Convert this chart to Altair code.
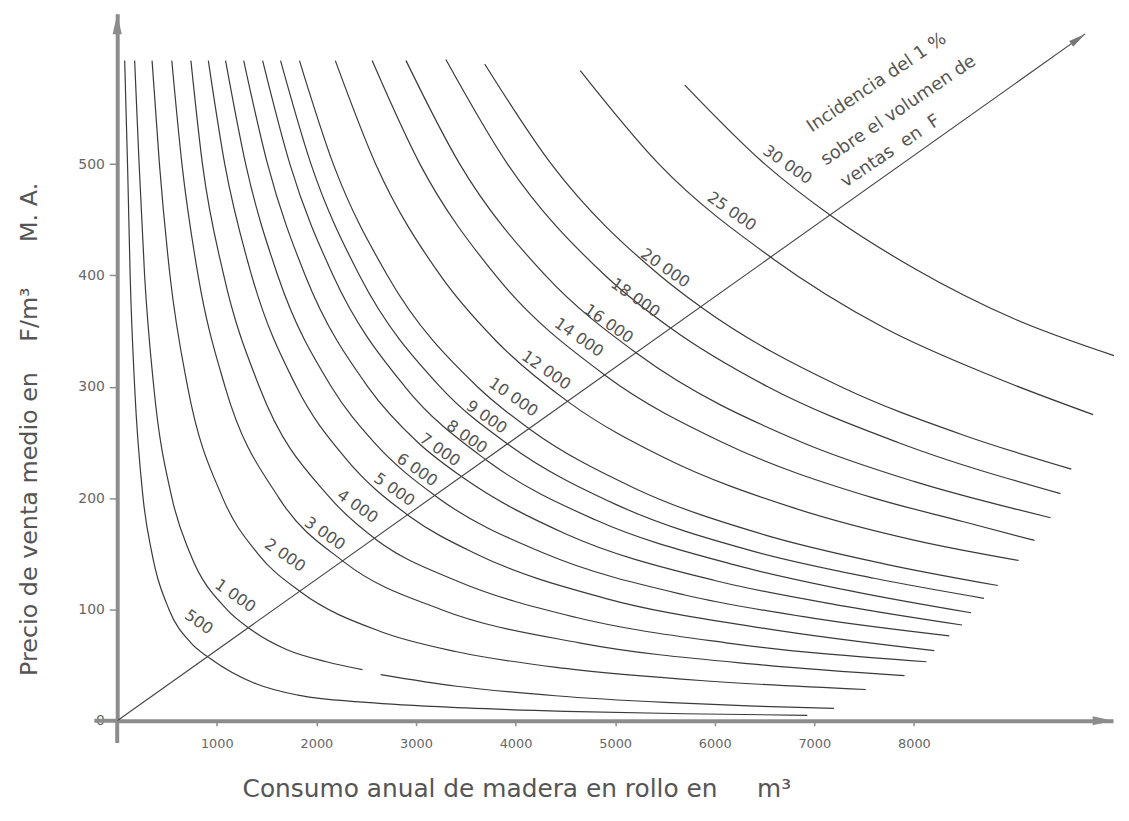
import altair as alt
import pandas as pd

# ---- curves (x: m3, y: F/m3) ----
x_500 = [75, 105, 130, 175, 260, 350, 520, 740, 937, 1400, 1815, 2500, 3500, 4500, 5700, 6930]
y_500 = [593, 495, 400, 300, 200, 150, 100, 70, 55.8, 33, 23, 16.5, 11.5, 8.5, 6.3, 4.9]
x_1000a = [175, 220, 275, 367, 550, 733, 1100, 1346, 1700, 2100, 2463]
y_1000a = [593, 500, 400, 300, 200, 150, 100, 81.7, 64, 53, 45.9]
x_1000b = [2645, 3410, 4400, 5500, 6400, 7198]
y_1000b = [41.5, 31, 22.5, 16.5, 13.2, 11.2]
x_2000 = [350, 424, 530, 707, 1060, 1413, 1844, 2650, 3410, 4500, 6000, 7517]
y_2000 = [593, 500, 400, 300, 200, 150, 115.6, 80, 62, 47, 35.3, 28.1]
x_3000 = [548, 650, 812, 1083, 1625, 2283, 3250, 4640, 6500, 7906]
y_3000 = [593, 500, 400, 300, 200, 142.3, 100, 70, 50, 40.6]
x_4000 = [740, 856, 1070, 1427, 2140, 2612, 3400, 4600, 6115, 8126]
y_4000 = [593, 500, 400, 300, 200, 162, 126, 93, 70, 53]
x_5000 = [915, 1080, 1350, 1800, 2300, 2941, 3600, 4900, 6500, 8205]
y_5000 = [593, 500, 400, 300, 235, 183.3, 150, 110, 83, 63]
x_6000 = [1088, 1290, 1612, 2150, 2580, 3210, 4300, 5700, 7000, 8355]
y_6000 = [593, 500, 400, 300, 250, 201, 150, 113, 92, 76.3]
x_7000 = [1270, 1510, 1888, 2517, 3020, 3479, 4500, 6000, 7300, 8484]
y_7000 = [593, 500, 400, 300, 250, 218, 168, 126, 103, 86]
x_8000 = [1460, 1734, 2168, 2890, 3709, 4800, 6200, 7400, 8574]
y_8000 = [593, 500, 400, 300, 234, 180.5, 140, 116, 97]
x_9000 = [1640, 1946, 2433, 3243, 3938, 5000, 6400, 7600, 8704]
y_9000 = [593, 500, 400, 300, 247.5, 194.6, 152, 128, 110]
x_10000 = [1830, 2170, 2713, 3617, 4157, 5200, 6500, 7700, 8843]
y_10000 = [593, 500, 400, 300, 261, 208.7, 167, 141, 121.5]
x_12000 = [2190, 2596, 3245, 3800, 4536, 5500, 6800, 8000, 9052]
y_12000 = [593, 500, 400, 341.6, 286, 236, 191, 162.3, 144]
x_14000 = [2560, 3040, 3800, 4905, 6080, 7600, 8500, 9212]
y_14000 = [593, 500, 400, 310, 250, 200, 178.8, 162]
x_16000 = [2900, 3440, 4300, 5224, 6880, 8000, 9372]
y_16000 = [593, 500, 400, 329.6, 250, 215, 182.4]
x_18000 = [3300, 3920, 4900, 5553, 6533, 7840, 9472]
y_18000 = [594, 500, 400, 353, 300, 250, 204]
x_20000 = [3690, 4360, 5450, 5872, 7267, 8500, 9581]
y_20000 = [590, 500, 400, 371, 300, 256.5, 226]
x_25000 = [4650, 5440, 6580, 7700, 8800, 9800]
y_25000 = [584, 500, 415.3, 353, 309, 275]
x_30000 = [5700, 6504, 7168, 8000, 9000, 10010]
y_30000 = [571, 500, 453.6, 406.5, 361.3, 328]

# ---- curve labels ----
label_text = ["500", "1 000", "2 000", "3 000", "4 000", "5 000", "6 000", "7 000", "8 000",
              "9 000", "10 000", "12 000", "14 000", "16 000", "18 000", "20 000", "25 000", "30 000"]
label_x = [818, 1186, 1685, 2084, 2413, 2782, 3011, 3240, 3509, 3709, 3978, 4307, 4636, 4935,
           5204, 5503, 6171, 6730]
label_y = [88.5, 112.2, 148.6, 168.1, 192.4, 207.6, 225.4, 243.3, 254.9, 272.7, 290.6, 314.7,
           344.2, 356.6, 379.8, 406.5, 457.4, 499.3]

# ---- diagonal "incidencia" line ----
diag_x = [0, 9720]
diag_y = [0, 617]
note_text = ["Incidencia del 1 %", "sobre el volumen de", "ventas  en  F"]
note_x = [7627, 7846, 7767]
note_y = [573, 548, 511.5]

# ---- axes ----
y_ticks = [0, 100, 200, 300, 400, 500]
x_ticks = [1000, 2000, 3000, 4000, 5000, 6000, 7000, 8000]
X_MAX = 10000
Y_MAX = 635

NB = "\u00a0"
x_title = "Consumo anual de madera en rollo en" + NB * 5 + "m³"
y_title = "Precio de venta medio en" + NB * 4 + "F/m³" + NB * 6 + "M. A."

curves = [
    ("500", x_500, y_500), ("1000a", x_1000a, y_1000a), ("1000b", x_1000b, y_1000b),
    ("2000", x_2000, y_2000), ("3000", x_3000, y_3000), ("4000", x_4000, y_4000),
    ("5000", x_5000, y_5000), ("6000", x_6000, y_6000), ("7000", x_7000, y_7000),
    ("8000", x_8000, y_8000), ("9000", x_9000, y_9000), ("10000", x_10000, y_10000),
    ("12000", x_12000, y_12000), ("14000", x_14000, y_14000), ("16000", x_16000, y_16000),
    ("18000", x_18000, y_18000), ("20000", x_20000, y_20000), ("25000", x_25000, y_25000),
    ("30000", x_30000, y_30000),
]
rows = []
for name, xs, ys in curves:
    for i, (xv, yv) in enumerate(zip(xs, ys)):
        rows.append({"seg": name, "i": i, "x": xv, "y": yv})
df = pd.DataFrame(rows)

df_labels = pd.DataFrame({"x": label_x, "y": label_y, "t": [s.replace(" ", NB) for s in label_text]})
df_diag = pd.DataFrame({"x": diag_x, "y": diag_y})
df_note = pd.DataFrame({"x": note_x, "y": note_y, "t": [s.replace(" ", NB) for s in note_text]})
df_arrow_axes = pd.DataFrame({"x": [0, X_MAX], "y": [Y_MAX, 0], "a": [270, 0]})
df_arrow_diag = pd.DataFrame({"x": [diag_x[1]], "y": [diag_y[1]], "a": [324.4]})
df_stub_v = pd.DataFrame({"x": [0], "y": [-20], "y2": [0]})
df_stub_h = pd.DataFrame({"x": [-230], "x2": [0], "y": [0]})

FONT = "DejaVu Sans"
XS = alt.Scale(domain=[0, X_MAX], nice=False, zero=False)
YS = alt.Scale(domain=[0, Y_MAX], nice=False, zero=False)

x_axis = alt.Axis(
    values=x_ticks, grid=False, domainColor="#8c8c8c", domainWidth=4,
    tickColor="#8c8c8c", tickSize=5, tickWidth=1.5, labelFont=FONT, labelFontSize=13,
    labelColor="#666", labelPadding=12, format="d",
    title=x_title, titleFont=FONT, titleFontSize=25,
    titleFontWeight="normal", titleColor="#555", titleX=402, titleY=68,
    titleAlign="center", titleBaseline="middle",
)
y_axis = alt.Axis(
    values=y_ticks, grid=False, domainColor="#8c8c8c", domainWidth=4,
    tickColor="#8c8c8c", tickSize=8, tickWidth=1.5, labelFont=FONT, labelFontSize=14,
    labelColor="#666", labelPadding=5, format="d",
    title=y_title, titleFont=FONT, titleFontSize=24,
    titleFontWeight="normal", titleColor="#555", titleAngle=270, titleX=-88, titleY=418,
    titleAlign="center", titleBaseline="middle",
)

lines = alt.Chart(df).mark_line(color="#3a3a3a", strokeWidth=1.2, interpolate="monotone").encode(
    x=alt.X("x:Q", scale=XS, axis=x_axis),
    y=alt.Y("y:Q", scale=YS, axis=y_axis),
    detail="seg:N",
    order="i:Q",
)

diag = alt.Chart(df_diag).mark_line(color="#444", strokeWidth=1.1).encode(
    x=alt.X("x:Q", scale=XS), y=alt.Y("y:Q", scale=YS)
)

stub_v = alt.Chart(df_stub_v).mark_rule(color="#8c8c8c", strokeWidth=4).encode(
    x=alt.X("x:Q", scale=XS), y=alt.Y("y:Q", scale=YS), y2="y2:Q"
)
stub_h = alt.Chart(df_stub_h).mark_rule(color="#8c8c8c", strokeWidth=4).encode(
    x=alt.X("x:Q", scale=XS), x2="x2:Q", y=alt.Y("y:Q", scale=YS)
)

arrows_axes = alt.Chart(df_arrow_axes).mark_point(
    shape="M0,0L-2,-0.45L-2,0.45Z", filled=True, color="#8c8c8c", size=420, opacity=1
).encode(
    x=alt.X("x:Q", scale=XS), y=alt.Y("y:Q", scale=YS), angle=alt.Angle("a:Q", scale=None)
)
arrow_diag = alt.Chart(df_arrow_diag).mark_point(
    shape="M0,0L-2,-0.4L-2,0.4Z", filled=True, color="#777", size=300, opacity=1
).encode(
    x=alt.X("x:Q", scale=XS), y=alt.Y("y:Q", scale=YS), angle=alt.Angle("a:Q", scale=None)
)

labels = alt.Chart(df_labels).mark_text(
    angle=35, font=FONT, fontSize=16, color="#555", align="center", baseline="middle"
).encode(x=alt.X("x:Q", scale=XS), y=alt.Y("y:Q", scale=YS), text="t:N")

note = alt.Chart(df_note).mark_text(
    angle=326, font=FONT, fontSize=18, color="#555", align="center", baseline="middle"
).encode(x=alt.X("x:Q", scale=XS), y=alt.Y("y:Q", scale=YS), text="t:N")

chart = alt.layer(lines, diag, stub_v, stub_h, arrows_axes, arrow_diag, labels, note).properties(
    width=1003,
    height=712,
    padding={"left": 110, "top": 3, "right": 8, "bottom": 90},
    autosize=alt.AutoSizeParams(type="none"),
    background="white",
).configure_view(stroke=None)

chart.save("out.html", embed_options={"renderer": "svg", "actions": False})
